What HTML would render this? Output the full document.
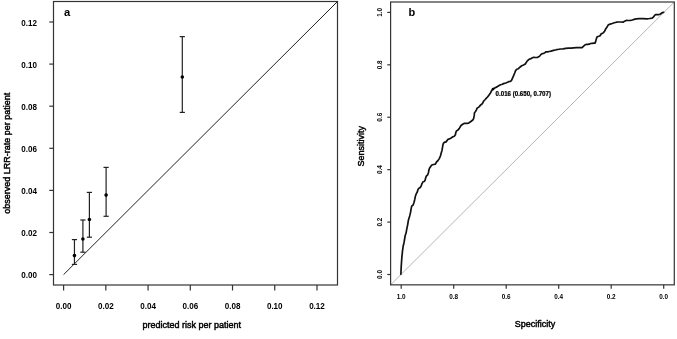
<!DOCTYPE html><html><head><meta charset="utf-8"><style>html,body{margin:0;padding:0;background:#fff;}svg{display:block;filter:grayscale(1);}text{font-family:"Liberation Sans",sans-serif;}</style></head><body>
<svg width="677" height="339" viewBox="0 0 677 339">
<rect width="677" height="339" fill="#fff"/>
<rect x="53.5" y="1.5" width="284.0" height="283.5" fill="none" stroke="#333" stroke-width="1.2"/>
<line x1="49.3" y1="274.60" x2="53.5" y2="274.60" stroke="#333" stroke-width="1.2"/>
<text transform="translate(36.9,278.10) scale(0.95,1)" font-size="8.5" font-weight="bold" text-anchor="end">0.00</text>
<line x1="49.3" y1="232.50" x2="53.5" y2="232.50" stroke="#333" stroke-width="1.2"/>
<text transform="translate(36.9,236.00) scale(0.95,1)" font-size="8.5" font-weight="bold" text-anchor="end">0.02</text>
<line x1="49.3" y1="190.40" x2="53.5" y2="190.40" stroke="#333" stroke-width="1.2"/>
<text transform="translate(36.9,193.90) scale(0.95,1)" font-size="8.5" font-weight="bold" text-anchor="end">0.04</text>
<line x1="49.3" y1="148.30" x2="53.5" y2="148.30" stroke="#333" stroke-width="1.2"/>
<text transform="translate(36.9,151.80) scale(0.95,1)" font-size="8.5" font-weight="bold" text-anchor="end">0.06</text>
<line x1="49.3" y1="106.20" x2="53.5" y2="106.20" stroke="#333" stroke-width="1.2"/>
<text transform="translate(36.9,109.70) scale(0.95,1)" font-size="8.5" font-weight="bold" text-anchor="end">0.08</text>
<line x1="49.3" y1="64.10" x2="53.5" y2="64.10" stroke="#333" stroke-width="1.2"/>
<text transform="translate(36.9,67.60) scale(0.95,1)" font-size="8.5" font-weight="bold" text-anchor="end">0.10</text>
<line x1="49.3" y1="22.00" x2="53.5" y2="22.00" stroke="#333" stroke-width="1.2"/>
<text transform="translate(36.9,25.50) scale(0.95,1)" font-size="8.5" font-weight="bold" text-anchor="end">0.12</text>
<line x1="63.60" y1="285.0" x2="63.60" y2="290.5" stroke="#333" stroke-width="1.2"/>
<text transform="translate(63.60,309) scale(0.95,1)" font-size="8.5" font-weight="bold" text-anchor="middle">0.00</text>
<line x1="105.83" y1="285.0" x2="105.83" y2="290.5" stroke="#333" stroke-width="1.2"/>
<text transform="translate(105.83,309) scale(0.95,1)" font-size="8.5" font-weight="bold" text-anchor="middle">0.02</text>
<line x1="148.06" y1="285.0" x2="148.06" y2="290.5" stroke="#333" stroke-width="1.2"/>
<text transform="translate(148.06,309) scale(0.95,1)" font-size="8.5" font-weight="bold" text-anchor="middle">0.04</text>
<line x1="190.29" y1="285.0" x2="190.29" y2="290.5" stroke="#333" stroke-width="1.2"/>
<text transform="translate(190.29,309) scale(0.95,1)" font-size="8.5" font-weight="bold" text-anchor="middle">0.06</text>
<line x1="232.52" y1="285.0" x2="232.52" y2="290.5" stroke="#333" stroke-width="1.2"/>
<text transform="translate(232.52,309) scale(0.95,1)" font-size="8.5" font-weight="bold" text-anchor="middle">0.08</text>
<line x1="274.75" y1="285.0" x2="274.75" y2="290.5" stroke="#333" stroke-width="1.2"/>
<text transform="translate(274.75,309) scale(0.95,1)" font-size="8.5" font-weight="bold" text-anchor="middle">0.10</text>
<line x1="316.98" y1="285.0" x2="316.98" y2="290.5" stroke="#333" stroke-width="1.2"/>
<text transform="translate(316.98,309) scale(0.95,1)" font-size="8.5" font-weight="bold" text-anchor="middle">0.12</text>
<line x1="63.6" y1="274.6" x2="337.5" y2="1.5" stroke="#222" stroke-width="1"/>
<line x1="74.45" y1="239.6" x2="74.45" y2="264.4" stroke="#222" stroke-width="1.2"/>
<line x1="71.85000000000001" y1="239.6" x2="77.05" y2="239.6" stroke="#222" stroke-width="1.2"/>
<line x1="71.85000000000001" y1="264.4" x2="77.05" y2="264.4" stroke="#222" stroke-width="1.2"/>
<circle cx="74.45" cy="255.6" r="1.8" fill="#000"/>
<line x1="82.9" y1="220" x2="82.9" y2="252.2" stroke="#222" stroke-width="1.2"/>
<line x1="80.30000000000001" y1="220" x2="85.5" y2="220" stroke="#222" stroke-width="1.2"/>
<line x1="80.30000000000001" y1="252.2" x2="85.5" y2="252.2" stroke="#222" stroke-width="1.2"/>
<circle cx="82.9" cy="239" r="1.8" fill="#000"/>
<line x1="89.4" y1="192.4" x2="89.4" y2="237.2" stroke="#222" stroke-width="1.2"/>
<line x1="86.80000000000001" y1="192.4" x2="92.0" y2="192.4" stroke="#222" stroke-width="1.2"/>
<line x1="86.80000000000001" y1="237.2" x2="92.0" y2="237.2" stroke="#222" stroke-width="1.2"/>
<circle cx="89.4" cy="219.5" r="1.8" fill="#000"/>
<line x1="106.1" y1="167.4" x2="106.1" y2="216.3" stroke="#222" stroke-width="1.2"/>
<line x1="103.5" y1="167.4" x2="108.69999999999999" y2="167.4" stroke="#222" stroke-width="1.2"/>
<line x1="103.5" y1="216.3" x2="108.69999999999999" y2="216.3" stroke="#222" stroke-width="1.2"/>
<circle cx="106.1" cy="195.1" r="1.8" fill="#000"/>
<line x1="182.3" y1="36.6" x2="182.3" y2="112.4" stroke="#222" stroke-width="1.2"/>
<line x1="179.70000000000002" y1="36.6" x2="184.9" y2="36.6" stroke="#222" stroke-width="1.2"/>
<line x1="179.70000000000002" y1="112.4" x2="184.9" y2="112.4" stroke="#222" stroke-width="1.2"/>
<circle cx="182.3" cy="77.0" r="1.8" fill="#000"/>
<text x="63.9" y="16" font-size="11.2" font-weight="bold">a</text>
<text transform="translate(10.3,153.3) rotate(-90)" font-size="9.0" stroke="#000" stroke-width="0.45" text-anchor="middle">observed LRR-rate per patient</text>
<text x="191.7" y="327.5" font-size="9.0" stroke="#000" stroke-width="0.45" text-anchor="middle">predicted risk per patient</text>
<line x1="390.6" y1="284.85" x2="674.3" y2="2.0" stroke="#b5b5b5" stroke-width="1"/>
<rect x="390.6" y="2.0" width="283.7" height="282.85" fill="none" stroke="#333" stroke-width="1.2"/>
<line x1="387.3" y1="274.50" x2="390.6" y2="274.50" stroke="#333" stroke-width="1.2"/>
<text transform="translate(382,274.50) rotate(-90) scale(0.9,1)" font-size="7.1" font-weight="bold" text-anchor="middle">0.0</text>
<line x1="387.3" y1="222.08" x2="390.6" y2="222.08" stroke="#333" stroke-width="1.2"/>
<text transform="translate(382,222.08) rotate(-90) scale(0.9,1)" font-size="7.1" font-weight="bold" text-anchor="middle">0.2</text>
<line x1="387.3" y1="169.66" x2="390.6" y2="169.66" stroke="#333" stroke-width="1.2"/>
<text transform="translate(382,169.66) rotate(-90) scale(0.9,1)" font-size="7.1" font-weight="bold" text-anchor="middle">0.4</text>
<line x1="387.3" y1="117.24" x2="390.6" y2="117.24" stroke="#333" stroke-width="1.2"/>
<text transform="translate(382,117.24) rotate(-90) scale(0.9,1)" font-size="7.1" font-weight="bold" text-anchor="middle">0.6</text>
<line x1="387.3" y1="64.82" x2="390.6" y2="64.82" stroke="#333" stroke-width="1.2"/>
<text transform="translate(382,64.82) rotate(-90) scale(0.9,1)" font-size="7.1" font-weight="bold" text-anchor="middle">0.8</text>
<line x1="387.3" y1="12.40" x2="390.6" y2="12.40" stroke="#333" stroke-width="1.2"/>
<text transform="translate(382,12.40) rotate(-90) scale(0.9,1)" font-size="7.1" font-weight="bold" text-anchor="middle">1.0</text>
<line x1="401.20" y1="284.85" x2="401.20" y2="288.8" stroke="#333" stroke-width="1.2"/>
<text transform="translate(401.20,298.8) scale(0.9,1)" font-size="7.1" font-weight="bold" text-anchor="middle">1.0</text>
<line x1="453.70" y1="284.85" x2="453.70" y2="288.8" stroke="#333" stroke-width="1.2"/>
<text transform="translate(453.70,298.8) scale(0.9,1)" font-size="7.1" font-weight="bold" text-anchor="middle">0.8</text>
<line x1="506.20" y1="284.85" x2="506.20" y2="288.8" stroke="#333" stroke-width="1.2"/>
<text transform="translate(506.20,298.8) scale(0.9,1)" font-size="7.1" font-weight="bold" text-anchor="middle">0.6</text>
<line x1="558.70" y1="284.85" x2="558.70" y2="288.8" stroke="#333" stroke-width="1.2"/>
<text transform="translate(558.70,298.8) scale(0.9,1)" font-size="7.1" font-weight="bold" text-anchor="middle">0.4</text>
<line x1="611.20" y1="284.85" x2="611.20" y2="288.8" stroke="#333" stroke-width="1.2"/>
<text transform="translate(611.20,298.8) scale(0.9,1)" font-size="7.1" font-weight="bold" text-anchor="middle">0.2</text>
<line x1="663.70" y1="284.85" x2="663.70" y2="288.8" stroke="#333" stroke-width="1.2"/>
<text transform="translate(663.70,298.8) scale(0.9,1)" font-size="7.1" font-weight="bold" text-anchor="middle">0.0</text>
<path d="M400.9 274.3 L401.2 267.0 L401.6 260.8 L402.0 255.9 L402.5 250.9 L403.2 246.0 L404.1 242.2 L404.7 238.5 L405.2 235.5 L406.0 233.3 L406.8 228.9 L407.7 224.6 L408.4 220.2 L408.9 218.4 L409.7 215.9 L410.6 212.1 L411.2 208.4 L411.8 205.9 L413.0 205.3 L413.9 202.8 L414.7 199.7 L415.3 196.6 L416.1 194.2 L417.3 191.9 L418.0 189.5 L418.9 188.3 L420.0 187.7 L421.2 186.0 L422.0 183.6 L423.0 181.8 L424.2 181.5 L425.1 180.3 L425.7 177.7 L426.5 175.9 L427.7 174.8 L428.5 172.4 L428.9 170.0 L429.5 168.3 L430.7 166.5 L431.8 165.0 L433.6 164.5 L435.4 164.1 L436.4 162.2 L438.1 160.4 L439.3 158.6 L440.5 155.7 L441.3 152.7 L442.0 150.4 L442.5 147.4 L442.9 145.1 L443.4 143.3 L444.6 142.1 L445.8 142.1 L446.8 140.9 L447.6 139.8 L448.2 139.2 L449.3 138.9 L451.1 138.0 L452.9 136.8 L454.3 136.2 L455.3 135.0 L455.8 132.7 L456.4 130.9 L457.6 130.3 L459.2 128.6 L461.0 125.5 L462.7 124.3 L464.5 123.3 L466.9 123.3 L468.6 123.1 L469.8 122.2 L471.2 121.2 L472.8 120.0 L473.6 118.6 L474.2 115.7 L474.5 112.7 L475.5 111.5 L476.3 110.1 L477.1 108.2 L478.3 107.4 L479.3 106.6 L480.1 105.6 L480.8 104.7 L481.6 104.4 L482.6 103.3 L483.4 101.5 L484.2 100.5 L485.2 99.5 L486.4 98.1 L487.5 97.0 L488.7 95.4 L490.1 93.6 L491.3 91.3 L492.5 89.3 L493.4 88.7 L495.2 87.7 L497.0 86.9 L498.7 85.7 L500.5 84.8 L502.3 84.2 L504.1 83.4 L505.8 83.0 L507.6 82.2 L508.8 81.6 L510.2 81.5 L511.4 80.6 L512.3 78.6 L513.5 75.9 L514.7 73.0 L515.6 70.6 L516.8 69.2 L518.2 68.8 L519.4 67.7 L520.8 66.5 L521.8 65.7 L523.5 65.0 L525.3 63.9 L526.2 62.6 L527.1 61.1 L528.4 59.9 L529.7 59.0 L531.1 58.6 L532.4 57.7 L533.7 57.3 L535.5 57.5 L537.3 57.5 L538.6 56.8 L539.9 55.8 L541.2 54.3 L542.6 53.5 L543.9 53.3 L545.0 52.6 L545.8 51.9 L547.4 51.9 L549.2 51.5 L551.0 51.1 L552.7 50.6 L554.5 50.2 L556.3 49.7 L557.8 49.5 L560.4 49.0 L563.1 48.8 L565.7 48.4 L568.4 48.1 L571.0 48.1 L573.7 47.9 L576.4 47.7 L579.0 47.7 L582.1 47.7 L583.4 46.4 L584.8 45.0 L586.1 44.4 L587.9 44.4 L589.2 44.2 L590.5 43.5 L592.3 43.3 L594.0 43.1 L595.0 43.1 L595.7 41.4 L596.4 38.6 L597.2 36.7 L598.8 36.2 L600.1 35.7 L601.2 33.8 L602.4 33.4 L603.6 32.6 L604.7 31.0 L606.0 28.4 L607.4 26.4 L608.4 24.8 L610.2 24.1 L612.2 23.5 L614.3 22.8 L616.4 22.2 L618.4 22.0 L621.0 22.0 L623.3 22.2 L624.6 21.2 L626.2 20.4 L628.2 20.5 L630.4 20.4 L632.3 20.0 L634.1 19.4 L636.3 18.9 L639.3 18.7 L643.0 18.7 L646.7 18.8 L649.6 18.5 L652.2 18.1 L653.3 17.2 L654.4 15.7 L655.5 14.7 L657.0 14.7 L658.5 14.6 L660.0 14.2 L661.1 13.5 L662.2 12.6 L663.6 12.3" fill="none" stroke="#111" stroke-width="1.7" stroke-linejoin="round" stroke-linecap="round"/>
<circle cx="493.1" cy="89.1" r="1.3" fill="#000"/>
<text transform="translate(495.6,96.2) scale(0.88,1)" font-size="7" font-weight="bold" stroke="#000" stroke-width="0.25">0.016 (0.650, 0.707)</text>
<text x="408.6" y="16" font-size="11" font-weight="bold">b</text>
<text transform="translate(364,146.3) rotate(-90)" font-size="9.0" stroke="#000" stroke-width="0.45" text-anchor="middle">Sensitivity</text>
<text x="535.1" y="327.3" font-size="9.0" stroke="#000" stroke-width="0.45" text-anchor="middle">Specificity</text>
</svg></body></html>
